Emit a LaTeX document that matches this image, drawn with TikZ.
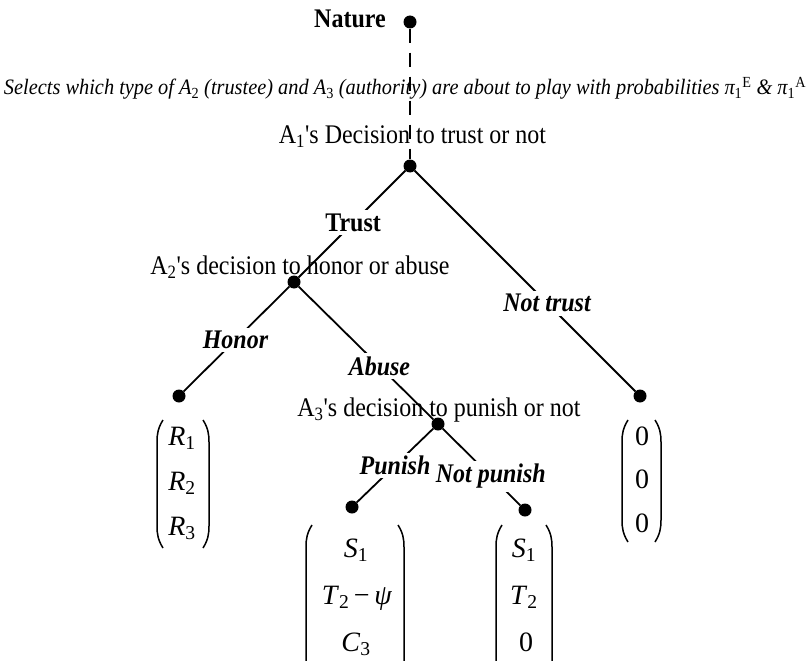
\documentclass[tikz,border=0pt]{standalone}
\usepackage{fontspec}
\setmainfont{Liberation Serif}
\usepackage{graphicx}
\newcommand\mylp[3]{\draw[paren] ({#1+6},{#2}) .. controls ({#1+1},{#2+8}) and ({#1},{#2+14}) .. ({#1},{#2+22}) -- ({#1},{#3-22}) .. controls ({#1},{#3-14}) and ({#1+1},{#3-8}) .. ({#1+6},{#3});}
\newcommand\myrp[3]{\draw[paren] ({#1-6},{#2}) .. controls ({#1-1},{#2+8}) and ({#1},{#2+14}) .. ({#1},{#2+22}) -- ({#1},{#3-22}) .. controls ({#1},{#3-14}) and ({#1-1},{#3-8}) .. ({#1-6},{#3});}
\newcommand\vst[1]{\scalebox{1}[1.12]{#1}}
\begin{document}
\begin{tikzpicture}[x=1pt,y=-1pt,
  every node/.style={inner sep=0pt},
  dot/.style={circle,fill=black,inner sep=0pt,minimum size=13pt},
  edge/.style={line width=1.8pt},
  natline/.style={line width=1.8pt,dash pattern=on 14pt off 10pt},
  lab/.style={fill=white,inner sep=3.5pt,font=\fontsize{24}{28}\selectfont\bfseries\itshape},
  labb/.style={fill=white,inner sep=3.5pt,font=\fontsize{24}{28}\selectfont\bfseries},
  dec/.style={anchor=base,font=\fontsize{24}{28}\selectfont},
  entry/.style={anchor=base,font=\fontsize{28}{30}\selectfont},
  paren/.style={line width=1.5pt}
]
\useasboundingbox (0,0) rectangle (809,661);

% texts
\node[dec,font=\fontsize{24}{28}\selectfont\bfseries] (nat) at (350,28) {\vst{Nature}};
\node[anchor=base] (sel) at (405,95) {\resizebox{802pt}{\height}{\fontsize{22}{26}\selectfont\itshape Selects which type of A\textsubscript{\upshape 2} (trustee) and A\textsubscript{\upshape 3} (authority) are about to play with probabilities π\textsubscript{\upshape 1}\textsuperscript{\upshape E} \& π\textsubscript{\upshape 1}\textsuperscript{\upshape A}}};
\node[dec] (a1t) at (412.5,143) {\vst{A\textsubscript{1}\textquotesingle s Decision to trust or not}};
\node[dec] (a2t) at (300,274) {\vst{A\textsubscript{2}\textquotesingle s decision to honor or abuse}};
\node[dec] (a3t) at (439,416) {\vst{A\textsubscript{3}\textquotesingle s decision to punish or not}};

% decision points
\node[dot] (n0) at (410,22) {};
\node[dot] (n1) at (410,166) {};
\node[dot] (n2) at (294,282) {};
\node[dot] (n3) at (438,424) {};
\node[dot] (lh) at (179,396) {};
\node[dot] (lnt) at (640,396) {};
\node[dot] (lp) at (352,507) {};
\node[dot] (lnp) at (525,510) {};

% edges
\draw[natline] (n0) -- (n1);
\draw[edge] (n1) -- node[labb,pos=0.49] (trust) {\vst{Trust}} (n2);
\draw[edge] (n1) -- node[lab,pos=0.6] (nottrust) {\vst{Not trust}} (lnt);
\draw[edge] (n2) -- node[lab,pos=0.51] (honor) {\vst{Honor}} (lh);
\draw[edge] (n2) -- node[lab,pos=0.6] (abuse) {\vst{Abuse}} (n3);
\draw[edge] (n3) -- node[lab,pos=0.5] (punish) {\vst{Punish}} (lp);
\draw[edge] (n3) -- node[lab,pos=0.62] (notpunish) {\vst{Not punish}} (lnp);

% payoff vectors
\node[entry] (h1) at (182,445) {\textit{R}\textsubscript{1}};
\node[entry] (h2) at (182,490) {\textit{R}\textsubscript{2}};
\node[entry] (h3) at (182,535) {\textit{R}\textsubscript{3}};
\mylp{157}{420}{548}
\myrp{209}{420}{548}

\node[entry] (t1) at (642,445) {0};
\node[entry] (t2) at (642,488) {0};
\node[entry] (t3) at (642,532) {0};
\mylp{622}{420}{542}
\myrp{661}{420}{542}

\node[entry] (p1) at (356,557) {\textit{S}\textsubscript{1}};
\node[entry] (p2) at (357,604) {\textit{T}\textsubscript{2}\,−\,\textit{ψ}};
\node[entry] (p3) at (356,651) {\textit{C}\textsubscript{3}};
\mylp{306}{525}{700}
\myrp{404}{525}{700}

\node[entry] (q1) at (524,557) {\textit{S}\textsubscript{1}};
\node[entry] (q2) at (524,604) {\textit{T}\textsubscript{2}};
\node[entry] (q3) at (526,651) {0};
\mylp{496}{525}{700}
\myrp{552}{525}{700}
\end{tikzpicture}
\end{document}
